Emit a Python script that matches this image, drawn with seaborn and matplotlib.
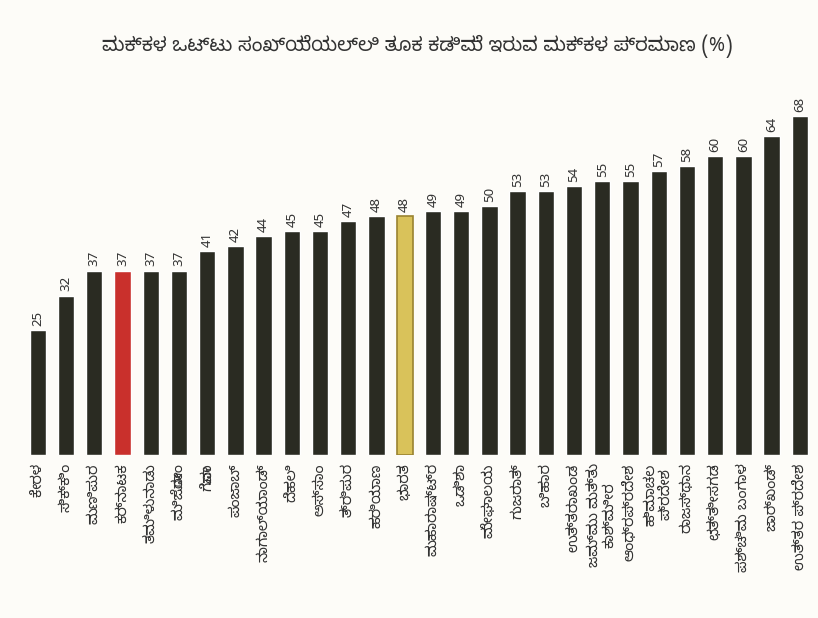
import matplotlib
matplotlib.use("Agg")
import matplotlib.pyplot as plt
import seaborn as sns
import pandas as pd

# values (share of children, %)
states = ['ಕೇರಳ', 'ಸಿಕ್ಕಿಂ', 'ಮಣಿಪುರ', 'ಕರ್ನಾಟಕ', 'ತಮಿಳುನಾಡು', 'ಮಿಜೋರಾಂ',
          'ಗೋವಾ', 'ಪಂಜಾಬ್', 'ನಾಗಾಲ್ಯಾಂಡ್', 'ದೆಹಲಿ', 'ಅಸ್ಸಾಂ', 'ತ್ರಿಪುರ',
          'ಹರಿಯಾಣ', 'ಭಾರತ', 'ಮಹಾರಾಷ್ಟ್ರ', 'ಒಡಿಶಾ', 'ಮೇಘಾಲಯ', 'ಗುಜರಾತ್',
          'ಬಿಹಾರ', 'ಉತ್ತರಾಖಂಡ', 'ಜಮ್ಮು ಮತ್ತು\nಕಾಶ್ಮೀರ', 'ಆಂಧ್ರಪ್ರದೇಶ',
          'ಹಿಮಾಚಲ\nಪ್ರದೇಶ', 'ರಾಜಸ್ಥಾನ', 'ಛತ್ತೀಸಗಡ', 'ಪಶ್ಚಿಮ ಬಂಗಾಳ',
          'ಜಾರ್ಖಂಡ್', 'ಉತ್ತರ ಪ್ರದೇಶ']
share = [25, 32, 37, 37, 37, 37, 41, 42, 44, 45, 45, 47, 48, 48,
         49, 49, 50, 53, 53, 54, 55, 55, 57, 58, 60, 60, 64, 68]
highlight = {'ಕರ್ನಾಟಕ': '#c9302c', 'ಭಾರತ': '#d9c25a'}
base_color = '#2a2b22'

title = 'ಮಕ್ಕಳ ಒಟ್ಟು ಸಂಖ್ಯೆಯಲ್ಲಿ ತೂಕ ಕಡಿಮೆ ಇರುವ ಮಕ್ಕಳ ಪ್ರಮಾಣ (%)'

df = pd.DataFrame({'state': states, 'share': share})
colors = {s: highlight.get(s, base_color) for s in states}

sns.set_style('white')
plt.rcParams['font.family'] = ['Noto Sans Kannada', 'DejaVu Sans']
bg = '#fdfcf8'

fig = plt.figure(figsize=(8.18, 6.18), dpi=100, facecolor=bg)
ax = fig.add_axes([0.029, 0.264, 0.966, 0.58])
ax.set_facecolor(bg)
sns.barplot(data=df, x='state', y='share', hue='state', palette=colors,
            legend=False, width=0.58, ax=ax, saturation=1)

# darker rim on the India bar, as in the reference
for patch, s in zip(ax.patches, states):
    if s == 'ಭಾರತ':
        patch.set_edgecolor('#9a8330')
        patch.set_linewidth(1.2)

for c in ax.containers:
    ax.bar_label(c, rotation=90, padding=3, fontsize=9.5, fontweight='bold',
                 color='#333333')

ax.set_ylim(0, 72)
ax.set_xlim(-0.5, len(states) - 0.5)
ax.set_xlabel('')
ax.set_ylabel('')
ax.set_yticks([])
ax.tick_params(axis='x', length=0, pad=6)
ax.set_xticks(range(len(states)))
ax.set_xticklabels(states, rotation=90, fontsize=10.5, fontweight='bold',
                   color='#333333', va='top', ha='center', linespacing=1.0)
sns.despine(ax=ax, left=True, bottom=True)

fig.text(0.51, 0.925, title, ha='center', va='center', fontsize=14,
         fontweight='bold', color='#333333')

fig.savefig('out.png', dpi=100, facecolor=bg)
